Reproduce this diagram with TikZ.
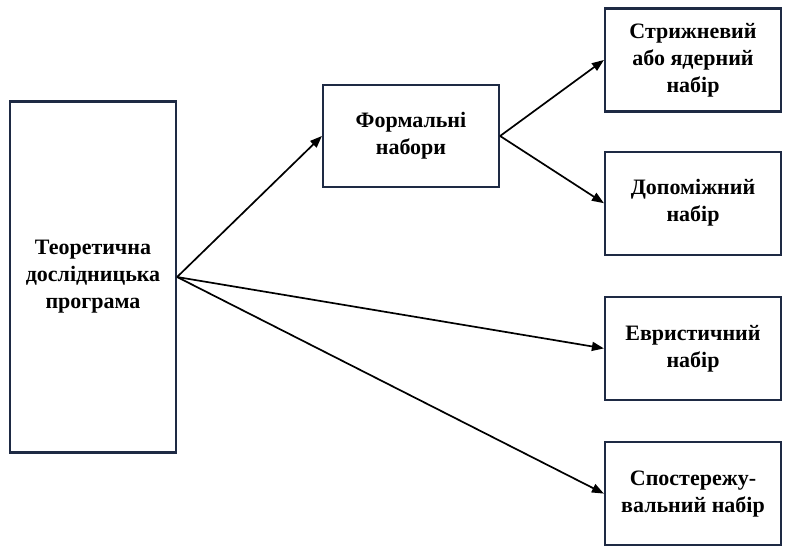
\documentclass[tikz,border=0pt]{standalone}
\usepackage{fontspec}
\setmainfont{Liberation Serif}
\usetikzlibrary{positioning,arrows.meta}
\definecolor{boxline}{RGB}{30,42,68}
\tikzset{
  box/.style={draw=boxline, line width=2.2pt, align=center, inner sep=4pt,
              font=\fontsize{22}{27}\selectfont\bfseries},
  tallbox/.style={box, minimum width=166pt, minimum height=351pt},
  setbox/.style={box, minimum width=176pt, minimum height=103pt},
  link/.style={-{Triangle[length=12pt,width=9pt]}, line width=1.7pt},
}

\begin{document}
\begin{tikzpicture}[x=1pt,y=-1pt]
  \useasboundingbox (0,0) rectangle (791,556);

  % programme and the formal sets
  \node[tallbox] (prog) at (93,277) {Теоретична\\дослідницька\\програма};
  \node[setbox, minimum height=102pt] (formal) at (411,136) {Формальні\\набори};

  % right column
  \node[setbox] (core) at (693,60) {Стрижневий\\або ядерний\\набір};
  \node[setbox, below=38pt of core] (aux) {Допоміжний\\набір};
  \node[setbox, below=40pt of aux] (heur) {Евристичний\\набір};
  \node[setbox, below=40pt of heur] (obs) {Спостережу-\\вальний набір};

  % connectors
  \draw[link] (prog.east) -- (formal.west);
  \draw[link] (prog.east) -- (heur.west);
  \draw[link] (prog.east) -- (obs.west);
  \draw[link] (formal.east) -- (core.west);
  \draw[link] (formal.east) -- (aux.west);
\end{tikzpicture}
\end{document}
